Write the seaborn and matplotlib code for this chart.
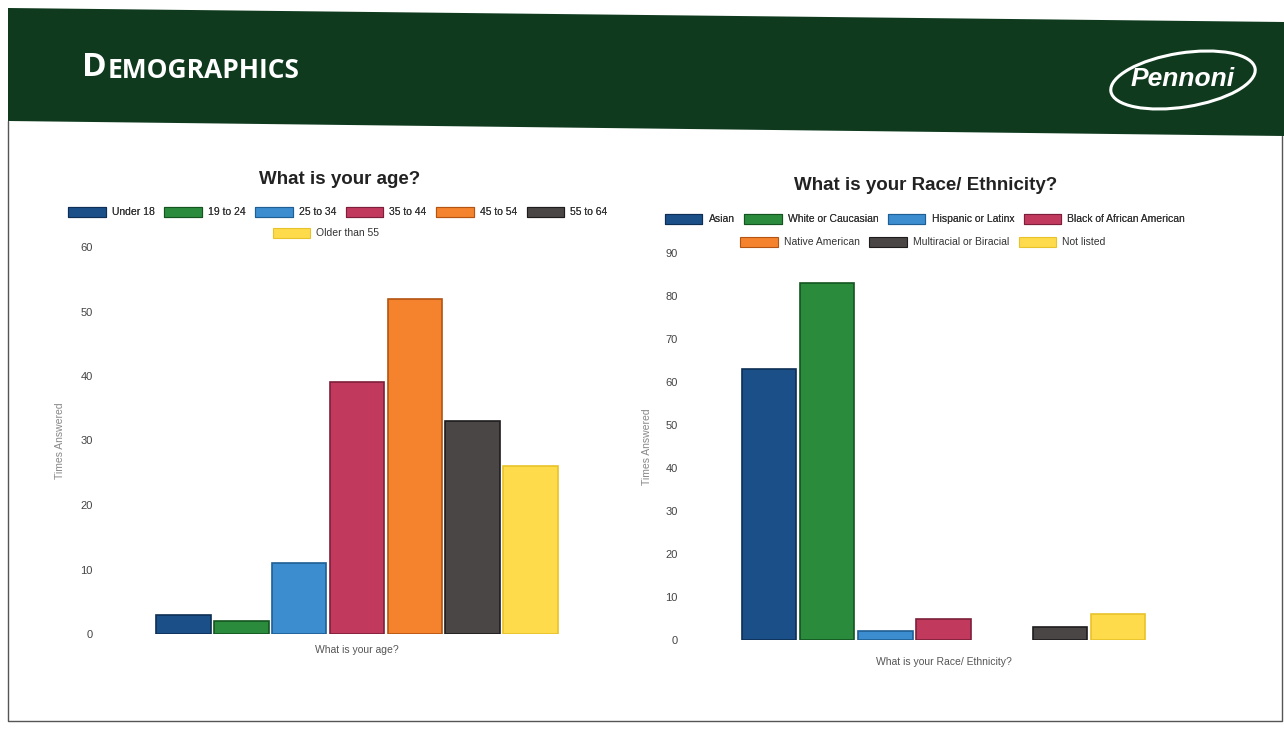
import matplotlib
matplotlib.use("Agg")
import matplotlib.pyplot as plt
import seaborn as sns
import pandas as pd
from matplotlib.patches import Patch, Polygon, Ellipse
from matplotlib.lines import Line2D

# ---------------- data ----------------
age_categories = ["Under 18", "19 to 24", "25 to 34", "35 to 44", "45 to 54", "55 to 64", "Older than 55"]
age_values = [3, 2, 11, 39, 52, 33, 26]
age_question = "What is your age?"

race_categories = ["Asian", "White or Caucasian", "Hispanic or Latinx", "Black of African American",
                   "Native American", "Multiracial or Biracial", "Not listed"]
race_values = [63, 83, 2, 5, 0, 3, 6]
race_question = "What is your Race/ Ethnicity?"

age_ticks = [0, 10, 20, 30, 40, 50, 60]
race_ticks = [0, 10, 20, 30, 40, 50, 60, 70, 80, 90]

colors = ["#1b4f88", "#2b8b3d", "#3b8dd0", "#c13a5e", "#f5832d", "#4a4646", "#fddb4a"]
edges = ["#0d2f55", "#14551f", "#1f5f94", "#7d1f3a", "#b35412", "#1e1c1c", "#e8c22a"]

sns.set_theme(style="white")
plt.rcParams["font.family"] = ["Liberation Sans", "DejaVu Sans"]

W, H = 1284, 738
fig = plt.figure(figsize=(W / 100, H / 100), dpi=100)
fig.patch.set_facecolor("white")

def fx(x):
    return x / W

def fy(y):
    return 1 - y / H

# ---------------- slide decorations ----------------
bg = fig.add_axes([0, 0, 1, 1], zorder=0)
bg.set_xlim(0, W)
bg.set_ylim(H, 0)
bg.axis("off")
bg.add_line(Line2D([8, 8, W - 2, W - 2], [121, 721, 721, 136], color="#555555", lw=1.0))
bg.add_patch(Polygon([(8, 8), (W, 22), (W, 136), (8, 121)], closed=True,
                     facecolor="#0f3a1e", edgecolor="none", zorder=3))
bg.add_patch(Ellipse((1183, 80), 146, 54, angle=-9, facecolor="none", edgecolor="white",
                     lw=2.2, zorder=4))
bg.text(1183, 79, "Pennoni", color="white", fontsize=19, fontweight="bold", style="italic",
        ha="center", va="center", family=["Liberation Sans", "DejaVu Sans"], zorder=5)

t1 = bg.text(82, 76, "D", color="white", fontsize=24, fontweight="bold",
             family=["Open Sans", "DejaVu Sans"], va="baseline", ha="left", zorder=5)
bg.annotate("EMOGRAPHICS", xy=(1, 0), xycoords=t1, xytext=(0.5, 0), textcoords="offset points",
            color="white", fontsize=19, fontweight="bold", family=["Open Sans", "DejaVu Sans"],
            va="bottom", ha="left", zorder=5)

# ---------------- charts ----------------
def draw_chart(rect, cats, vals, question, ylim, ticks, title, title_xy,
               leg1_xy, leg2_xy, n_row1, ylabel_x, xlabel_pad):
    ax = fig.add_axes(rect)
    df = pd.DataFrame({"q": [question] * len(cats), "cat": cats, "v": vals})
    sns.barplot(data=df, x="q", y="v", hue="cat", hue_order=cats, palette=colors,
                gap=0.06, width=0.8, legend=False, ax=ax, saturation=1)
    for p, ec in zip(ax.patches, edges):
        if p.get_height() == 0:
            p.set_linewidth(0)
        else:
            p.set_edgecolor(ec)
            p.set_linewidth(1.2)
    ax.set_ylim(*ylim)
    ax.set_yticks(ticks)
    ax.tick_params(axis="y", labelsize=8, colors="#444444", length=0, pad=8)
    ax.set_xticks([])
    for s in ax.spines.values():
        s.set_visible(False)
    ax.set_facecolor("none")
    ax.set_ylabel("Times Answered", fontsize=7.5, color="#888888")
    ax.yaxis.set_label_coords(ylabel_x, 0.5)
    ax.set_xlabel(question, fontsize=7.5, color="#555555", labelpad=xlabel_pad)
    fig.text(title_xy[0], title_xy[1], title, fontsize=13.5, fontweight="bold",
             color="#222222", ha="center", va="center")
    handles = [Patch(facecolor=c, edgecolor=e, lw=0.8) for c, e in zip(colors, edges)]
    kw = dict(frameon=False, fontsize=7.5, handlelength=3.6, handleheight=1.1,
              handletextpad=0.6, columnspacing=0.9, borderaxespad=0, borderpad=0,
              loc="center")
    l1 = fig.legend(handles[:n_row1], cats[:n_row1], ncol=n_row1,
                    bbox_to_anchor=leg1_xy, **kw)
    for t in l1.get_texts():
        t.set_color("#333333")
    fig.add_artist(l1)
    l2 = fig.legend(handles[n_row1:], cats[n_row1:], ncol=len(cats) - n_row1,
                    bbox_to_anchor=leg2_xy, **kw)
    for t in l2.get_texts():
        t.set_color("#333333")
    return ax

draw_chart([fx(104), fy(634), fx(506), (634 - 247) / H], age_categories, age_values,
           age_question, (0, 60), age_ticks, "What is your age?",
           (fx(340), fy(180)), (fx(338), fy(212)), (fx(326), fy(233)), 6, -0.077, 8)

draw_chart([fx(689), fy(640), fx(509), (640 - 253) / H], race_categories, race_values,
           race_question, (0, 90), race_ticks, "What is your Race/ Ethnicity?",
           (fx(926), fy(186)), (fx(925), fy(219)), (fx(923), fy(242)), 4, -0.073, 12)

fig.savefig("out.png", dpi=100)
